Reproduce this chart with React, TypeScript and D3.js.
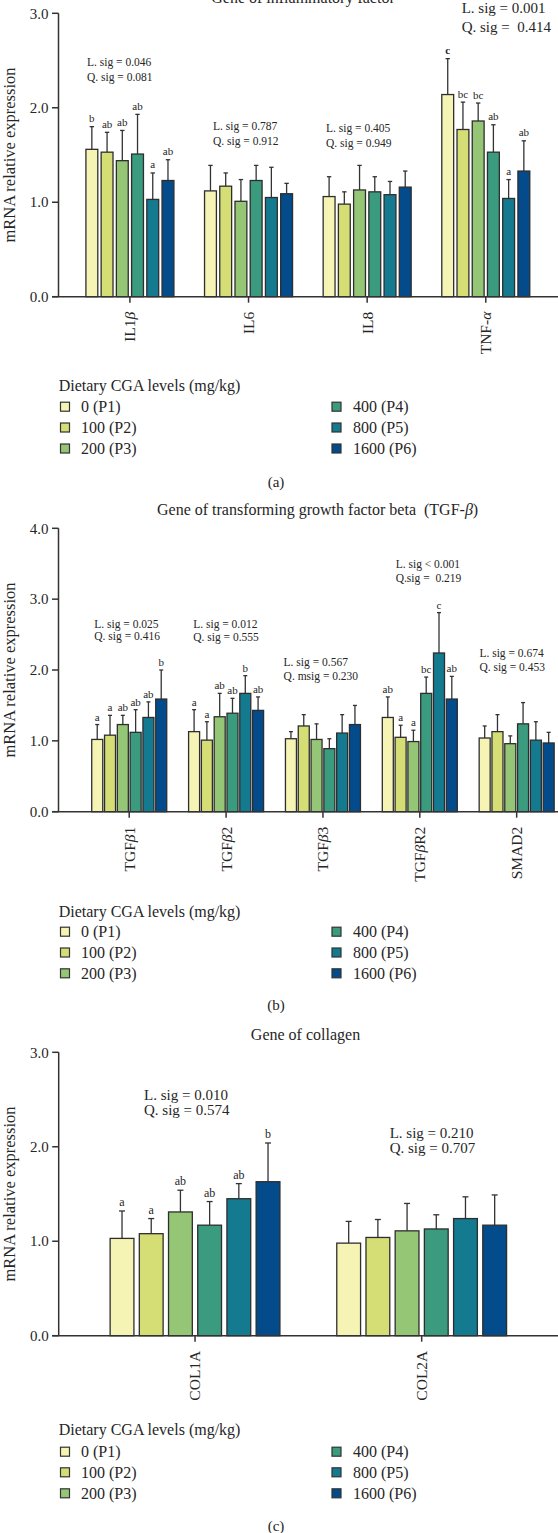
import React from "react";
import * as d3 from "d3";

// ---------- shared data ----------
const levels = ["0 (P1)", "100 (P2)", "200 (P3)", "400 (P4)", "800 (P5)", "1600 (P6)"];
const levelColors = ["#f6f4b4", "#d5dd75", "#95c676", "#3a9b7e", "#137a8f", "#034b8a"];
const legendTitle = "Dietary CGA levels (mg/kg)";
const yAxisTitle = "mRNA relative expression";

// ---------- panel (a) ----------
const titleA = "Gene of inflammatory factor";
const genesA = ["IL1β", "IL6", "IL8", "TNF-α"];
const meanA = [
  [1.56, 1.53, 1.44, 1.51, 1.03, 1.23],
  [1.12, 1.17, 1.01, 1.23, 1.05, 1.09],
  [1.06, 0.98, 1.13, 1.11, 1.08, 1.16],
  [2.14, 1.77, 1.86, 1.53, 1.04, 1.33],
];
const sdA = [
  [0.24, 0.21, 0.32, 0.42, 0.28, 0.22],
  [0.27, 0.14, 0.23, 0.16, 0.32, 0.11],
  [0.21, 0.13, 0.26, 0.16, 0.14, 0.17],
  [0.38, 0.29, 0.19, 0.29, 0.2, 0.32],
];
const lettersA = [
  ["b", "ab", "ab", "ab", "a", "ab"],
  [],
  [],
  ["c", "bc", "bc", "ab", "a", "ab"],
];
const sigA = [
  ["L. sig = 0.046", "Q. sig = 0.081"],
  ["L. sig = 0.787", "Q. sig = 0.912"],
  ["L. sig = 0.405", "Q. sig = 0.949"],
  ["L. sig = 0.001", "Q. sig =  0.414"],
];
const yTicksA = [0, 1, 2, 3];

// ---------- panel (b) ----------
const titleB = "Gene of transforming growth factor beta  (TGF-β)";
const genesB = ["TGFβ1", "TGFβ2", "TGFβ3", "TGFβR2", "SMAD2"];
const meanB = [
  [1.02, 1.08, 1.23, 1.12, 1.33, 1.59],
  [1.13, 1.01, 1.34, 1.39, 1.67, 1.43],
  [1.03, 1.21, 1.02, 0.89, 1.11, 1.23],
  [1.33, 1.05, 0.99, 1.67, 2.24, 1.59],
  [1.04, 1.13, 0.96, 1.24, 1.01, 0.97],
];
const sdB = [
  [0.21, 0.28, 0.13, 0.32, 0.22, 0.41],
  [0.31, 0.26, 0.33, 0.21, 0.25, 0.19],
  [0.1, 0.16, 0.22, 0.14, 0.26, 0.27],
  [0.29, 0.17, 0.16, 0.23, 0.57, 0.32],
  [0.17, 0.24, 0.11, 0.3, 0.26, 0.15],
];
const lettersB = [
  ["a", "a", "ab", "ab", "ab", "b"],
  ["a", "a", "ab", "ab", "b", "ab"],
  [],
  ["ab", "a", "a", "bc", "c", "ab"],
  [],
];
const sigB = [
  ["L. sig = 0.025", "Q. sig = 0.416"],
  ["L. sig = 0.012", "Q. sig = 0.555"],
  ["L. sig = 0.567", "Q. msig = 0.230"],
  ["L. sig < 0.001", "Q.sig =  0.219"],
  ["L. sig = 0.674", "Q. sig = 0.453"],
];
const yTicksB = [0, 1, 2, 3, 4];

// ---------- panel (c) ----------
const titleC = "Gene of collagen";
const genesC = ["COL1A", "COL2A"];
const meanC = [
  [1.03, 1.08, 1.31, 1.17, 1.45, 1.63],
  [0.98, 1.04, 1.11, 1.13, 1.24, 1.17],
];
const sdC = [
  [0.29, 0.16, 0.23, 0.25, 0.16, 0.41],
  [0.23, 0.19, 0.29, 0.15, 0.23, 0.32],
];
const lettersC = [["a", "a", "ab", "ab", "ab", "b"], []];
const sigC = [
  ["L. sig = 0.010", "Q. sig = 0.574"],
  ["L. sig = 0.210", "Q. sig = 0.707"],
];
const yTicksC = [0, 1, 2, 3];

// ---------- layout (positions / styles only) ----------
const FONT = "'Liberation Serif', 'Times New Roman', serif";
const INK = "#262626";

const panels = [
  {
    caption: "(a)", title: titleA, genes: genesA, mean: meanA, sd: sdA, letters: lettersA, sig: sigA, ticks: yTicksA,
    yMax: 3, y0: 296.7, yTop: 13.3, axisX: 58.5, xRange: [70.6, 545.1], groupW: 88, barPad: 0.22, cap: 2.2,
    titleX: 303, titleY: 3, captionY: 487, yTitleY: 155,
    letterSize: 11, letterGap: 4.5, boldLetters: [[3, 0]],
    sigPos: [
      { x: 87, y: 66, dy: 15, size: 11.5 },
      { x: 213, y: 130, dy: 14.5, size: 11.5 },
      { x: 326, y: 132, dy: 15, size: 11.5 },
      { x: 461.7, y: 12.5, dy: 19.5, size: 15 },
    ],
    legendTitleY: 391, legendRows: [406.7, 427.5, 448.5],
  },
  {
    caption: "(b)", title: titleB, genes: genesB, mean: meanB, sd: sdB, letters: lettersB, sig: sigB, ticks: yTicksB,
    yMax: 4, y0: 811.7, yTop: 528.3, axisX: 58.5, xRange: [80.8, 565.1], groupW: 75, barPad: 0.14, cap: 2,
    titleX: 317.6, titleY: 515, captionY: 1010, yTitleY: 670,
    letterSize: 11, letterGap: 4, boldLetters: [],
    sigPos: [
      { x: 94.3, y: 628, dy: 11.5, size: 11.5 },
      { x: 193.2, y: 628, dy: 13, size: 11.5 },
      { x: 283.6, y: 665.7, dy: 14.3, size: 11.5 },
      { x: 395.7, y: 568, dy: 14.3, size: 11.5 },
      { x: 479.4, y: 657.3, dy: 13.4, size: 11.5 },
    ],
    legendTitleY: 917, legendRows: [931.7, 952.5, 973.3],
  },
  {
    caption: "(c)", title: titleC, genes: genesC, mean: meanC, sd: sdC, letters: lettersC, sig: sigC, ticks: yTicksC,
    yMax: 3, y0: 1335.7, yTop: 1052.3, axisX: 58.7, xRange: [81.7, 535], groupW: 169.8, barPad: 0.185, cap: 3,
    titleX: 305.5, titleY: 1040, captionY: 1531, yTitleY: 1194,
    letterSize: 12, letterGap: 5, boldLetters: [],
    sigPos: [
      { x: 144, y: 1100, dy: 15, size: 15 },
      { x: 389.7, y: 1138, dy: 15, size: 15 },
    ],
    legendTitleY: 1435, legendRows: [1451.7, 1472.3, 1493.3],
  },
];

function Greek({ s }: { s: string }) {
  const parts: { t: string; it: boolean }[] = [];
  for (const ch of s) {
    const it = /[α-ωΑ-Ω]/.test(ch);
    const last = parts[parts.length - 1];
    if (last && last.it === it) last.t += ch;
    else parts.push({ t: ch, it });
  }
  return (
    <>
      {parts.map((p, i) => (
        <tspan key={i} fontStyle={p.it ? "italic" : "normal"}>{p.t}</tspan>
      ))}
    </>
  );
}

function Panel({ p }: { p: any }) {
  const y = d3.scaleLinear().domain([0, p.yMax]).range([p.y0, p.yTop]);
  const x = d3.scaleBand<string>().domain(p.genes).range(p.xRange).paddingInner(0).paddingOuter(0);
  const inner = d3
    .scaleBand<string>()
    .domain(levels)
    .range([-p.groupW / 2, p.groupW / 2])
    .paddingInner(p.barPad)
    .paddingOuter(0);
  const fmt = d3.format(".1f");
  const cx = (g: string) => (x(g) as number) + x.bandwidth() / 2;
  const bw = inner.bandwidth();

  return (
    <g fontFamily={FONT} fill={INK}>
      {/* title */}
      <text x={p.titleX} y={p.titleY} textAnchor="middle" fontSize={16} style={{ whiteSpace: "pre" }}>
        <Greek s={p.title} />
      </text>

      {/* y axis title */}
      <text
        transform={`translate(9,${p.yTitleY}) rotate(-90)`}
        textAnchor="middle"
        dy="0.35em"
        fontSize={16.5}
      >
        {yAxisTitle}
      </text>

      {/* bars */}
      {p.genes.map((g: string, gi: number) => (
        <g key={g}>
          {levels.map((lv, li) => {
            const v = p.mean[gi][li];
            const e = v + p.sd[gi][li];
            const bx = cx(g) + (inner(lv) as number);
            const mid = bx + bw / 2;
            const letter = p.letters[gi][li];
            const bold = p.boldLetters.some((b: number[]) => b[0] === gi && b[1] === li);
            return (
              <g key={lv}>
                <line x1={mid} x2={mid} y1={y(v)} y2={y(e)} stroke="#333" strokeWidth={1.3} />
                <line x1={mid - p.cap} x2={mid + p.cap} y1={y(e)} y2={y(e)} stroke="#333" strokeWidth={1.3} />
                <rect
                  x={bx}
                  y={y(v)}
                  width={bw}
                  height={y(0) - y(v)}
                  fill={levelColors[li]}
                  stroke="#2e2e2e"
                  strokeWidth={1.3}
                />
                {letter && (
                  <text
                    x={mid}
                    y={y(e) - p.letterGap}
                    textAnchor="middle"
                    fontSize={p.letterSize}
                    fontWeight={bold ? "bold" : "normal"}
                  >
                    {letter}
                  </text>
                )}
              </g>
            );
          })}
        </g>
      ))}

      {/* sig annotations */}
      {p.sig.map((lines: string[], i: number) => {
        const sp = p.sigPos[i];
        return (
          <text key={i} fontSize={sp.size} style={{ whiteSpace: "pre" }}>
            <tspan x={sp.x} y={sp.y}>{lines[0]}</tspan>
            <tspan x={sp.x} y={sp.y + sp.dy}>{lines[1]}</tspan>
          </text>
        );
      })}

      {/* y axis */}
      <line x1={p.axisX} x2={p.axisX} y1={y(p.yMax)} y2={y(0)} stroke="#333" strokeWidth={1.5} />
      {p.ticks.map((t: number) => (
        <g key={t}>
          <line x1={p.axisX - 6.5} x2={p.axisX} y1={y(t)} y2={y(t)} stroke="#333" strokeWidth={1.5} />
          <text x={p.axisX - 10} y={y(t)} dy="0.35em" textAnchor="end" fontSize={15}>
            {fmt(t)}
          </text>
        </g>
      ))}

      {/* x axis */}
      <line x1={p.axisX - 6.5} x2={558} y1={y(0)} y2={y(0)} stroke="#333" strokeWidth={1.5} />
      {p.genes.map((g: string) => (
        <g key={g}>
          <line x1={cx(g)} x2={cx(g)} y1={y(0)} y2={y(0) + 6} stroke="#333" strokeWidth={1.5} />
          <text
            transform={`translate(${cx(g)},${y(0) + 15}) rotate(-90)`}
            textAnchor="end"
            dy="0.35em"
            fontSize={15.5}
          >
            <Greek s={g} />
          </text>
        </g>
      ))}

      {/* legend */}
      <text x={58.7} y={p.legendTitleY} fontSize={16}>
        {legendTitle}
      </text>
      {levels.map((lv, i) => {
        const col = i < 3 ? 0 : 1;
        const row = i % 3;
        const sx = col === 0 ? 60.5 : 332;
        const tx = col === 0 ? 81 : 353;
        const ry = p.legendRows[row];
        return (
          <g key={lv}>
            <rect x={sx} y={ry - 4.5} width={9} height={9} fill={levelColors[i]} stroke="#333" strokeWidth={1.2} />
            <text x={tx} y={ry} dy="0.35em" fontSize={16}>
              {lv}
            </text>
          </g>
        );
      })}

      {/* caption */}
      <text x={276} y={p.captionY} textAnchor="middle" fontSize={15}>
        {p.caption}
      </text>
    </g>
  );
}

export default function App() {
  return (
    <div style={{ position: "absolute", left: 0, top: 0 }}>
      <svg width={558} height={1533} viewBox="0 0 558 1533" style={{ display: "block", background: "#fff" }}>
        <rect x={0} y={0} width={558} height={1533} fill="#fff" />
        {panels.map((p, i) => (
          <Panel key={i} p={p} />
        ))}
      </svg>
    </div>
  );
}
